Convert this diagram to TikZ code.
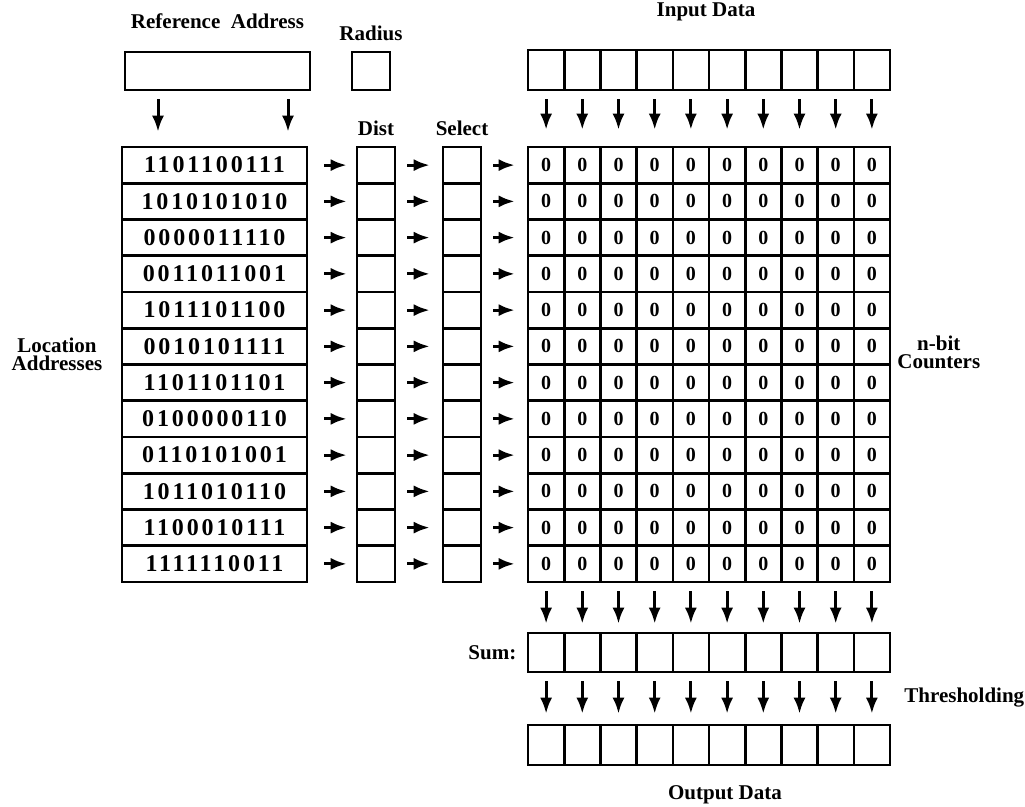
\documentclass[tikz,border=0pt]{standalone}
\usepackage{fontspec}
\setmainfont{Liberation Serif}
\newfontfamily\bitfont[LetterSpace=12]{Liberation Serif}
\usetikzlibrary{arrows.meta,positioning}

\begin{document}
\begin{tikzpicture}[x=0.5pt, y=-0.5pt,
    >={Latex[length=8pt,width=6pt]}, font=\bfseries\fontsize{10.5}{12}\selectfont,
    reg/.style={draw, line width=1.3pt, minimum width=18.1pt, minimum height=20pt, inner sep=0pt},
    cnt/.style={reg, minimum height=18.1pt, font=\bfseries\fontsize{10}{12}\selectfont},
    addr/.style={reg, minimum width=92.5pt, minimum height=18.1pt,
      font=\bitfont\bfseries\fontsize{12}{14}\selectfont},
    lbl/.style={inner sep=1pt, align=center},
    flow/.style={->, line width=1.5pt}]
  \useasboundingbox (0,0) rectangle (1025,807);

  % reference address and radius
  \node[reg, minimum width=92.5pt, minimum height=19pt] (ref) at (217.5,71) {};
  \node[reg, minimum width=19pt, minimum height=19pt] (rad) at (371,71) {};
  \node[lbl, above=10pt of ref] (reflbl) {Reference\ \ Address};
  \node[lbl, above=4pt of rad] (radlbl) {Radius};

  % locations, distances, selection and counters
  \foreach \bits [count=\r] in {1101100111,1010101010,0000011110,0011011001,
      1011101100,0010101111,1101101101,0100000110,0110101001,1011010110,
      1100010111,1111110011} {
    \node[addr] (loc\r) at (214.5,128.875+36.25*\r) {\bits};
    \node[reg, minimum width=19pt, minimum height=18.1pt] (dist\r) at (376,128.875+36.25*\r) {};
    \node[reg, minimum width=19pt, minimum height=18.1pt] (sel\r) at (462,128.875+36.25*\r) {};
    \foreach \c in {1,...,10}
      \node[cnt] (c\r-\c) at (509.9+36.2*\c,128.875+36.25*\r) {0};
    \draw[flow, shorten <=8pt, shorten >=4.5pt] (loc\r) -- (dist\r);
    \draw[flow, shorten <=5.5pt, shorten >=6pt] (dist\r) -- (sel\r);
    \draw[flow, shorten <=5.5pt, shorten >=6pt] (sel\r) -- (c\r-1);
  }
  \draw[flow, shorten <=4pt, shorten >=7pt] ([xshift=-29.75pt]ref.south) -- ([xshift=-28.25pt]loc1.north);
  \draw[flow, shorten <=4pt, shorten >=7pt] ([xshift=35.25pt]ref.south) -- ([xshift=36.75pt]loc1.north);
  \node[lbl, above=4pt of dist1] (distlbl) {Dist};
  \node[lbl, above=4pt of sel1] (sellbl) {Select};

  % input, sum and output registers
  \foreach \c in {1,...,10} {
    \node[reg] (in\c) at (509.9+36.2*\c,70) {};
    \node[reg, minimum height=19.5pt] (sum\c) at (509.9+36.2*\c,652.5) {};
    \node[reg] (out\c) at (509.9+36.2*\c,745) {};
    \draw[flow, shorten <=4pt, shorten >=8pt] (in\c) -- (c1-\c);
    \draw[flow, shorten <=4pt, shorten >=4pt] (c12-\c) -- (sum\c);
    \draw[flow, shorten <=4pt, shorten >=5pt] (sum\c) -- (out\c);
  }

  % labels
  \node[lbl] (inlbl) at (706,12) {Input Data};
  \node[lbl] (loclbl) at (57,354) {Location\\[-3pt]Addresses};
  \node[lbl, anchor=west] (cntlbl) at (895,352) {n-bit\\[-3pt]Counters};
  \node[lbl, left=4pt of sum1] (sumlbl) {Sum:};
  \node[lbl, anchor=west] (thrlbl) at (902,698) {Thresholding};
  \node[lbl] (outlbl) at (725,795) {Output Data};
\end{tikzpicture}
\end{document}
